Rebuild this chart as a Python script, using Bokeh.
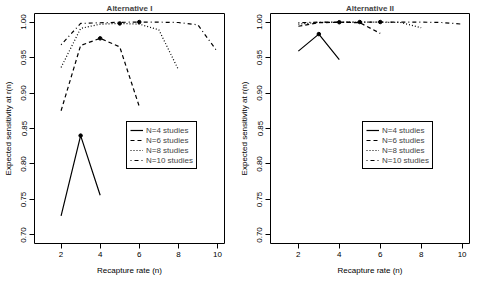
from bokeh.plotting import figure
from bokeh.layouts import row
from bokeh.models import Range1d, FixedTicker, PrintfTickFormatter, Legend, LegendItem
from bokeh.embed import file_html
from bokeh.resources import INLINE

# ---- data: Alternative I ----
alt1_n4_x = [2, 3, 4]
alt1_n4_y = [0.727, 0.840, 0.756]
alt1_n6_x = [2, 3, 4, 5, 6]
alt1_n6_y = [0.875, 0.967, 0.977, 0.965, 0.881]
alt1_n8_x = [2, 3, 4, 5, 6, 7, 8]
alt1_n8_y = [0.936, 0.991, 0.997, 0.998, 0.997, 0.989, 0.933]
alt1_n10_x = [2, 3, 4, 5, 6, 7, 8, 9, 10]
alt1_n10_y = [0.968, 0.998, 0.999, 0.9995, 1.000, 0.9998, 0.9993, 0.996, 0.958]

# ---- data: Alternative II ----
alt2_n4_x = [2, 3, 4]
alt2_n4_y = [0.959, 0.983, 0.947]
alt2_n6_x = [2, 3, 4, 5, 6]
alt2_n6_y = [0.994, 0.999, 0.9997, 0.999, 0.984]
alt2_n8_x = [2, 3, 4, 5, 6, 7, 8]
alt2_n8_y = [0.997, 0.9995, 0.9998, 1.000, 0.9998, 0.9993, 0.992]
alt2_n10_x = [2, 3, 4, 5, 6, 7, 8, 9, 10]
alt2_n10_y = [0.999, 0.9998, 0.9999, 0.9999, 1.000, 0.9999, 0.9998, 0.9993, 0.997]

series_labels = ["N=4 studies", "N=6 studies", "N=8 studies", "N=10 studies"]
series_dashes = ["solid", "4 3", "1 2", "1 3 4 3"]
x_ticks = [2, 4, 6, 8, 10]
y_ticks = [0.70, 0.75, 0.80, 0.85, 0.90, 0.95, 1.00]

FONT = "Liberation Sans"


def make_panel(title, series, width, left_border, right_border):
    p = figure(width=width, height=277, output_backend="svg", toolbar_location=None,
               x_range=Range1d(0.64, 10.36), y_range=Range1d(0.688, 1.012),
               title=title, min_border_left=left_border, min_border_right=right_border,
               min_border_top=2, min_border_bottom=0)
    p.title.align = "center"
    p.title.text_font = FONT
    p.title.text_font_size = "8px"
    p.title.text_font_style = "bold"
    p.title.offset = 0
    p.title.standoff = 2
    p.grid.visible = False
    p.outline_line_color = "black"
    p.outline_line_alpha = 1
    p.outline_line_width = 1
    p.background_fill_color = "white"
    p.border_fill_color = "white"

    for ax in (p.xaxis, p.yaxis):
        ax.axis_line_color = None
        ax.major_tick_in = 0
        ax.major_tick_out = 5
        ax.minor_tick_line_color = None
        ax.major_tick_line_color = "black"
        ax.major_label_text_font = FONT
        ax.major_label_text_font_size = "8px"
        ax.major_label_text_color = "black"
        ax.axis_label_text_font = FONT
        ax.axis_label_text_font_size = "8px"
        ax.axis_label_text_font_style = "normal"
        ax.axis_label_text_color = "black"
        ax.major_label_standoff = 3
        ax.axis_label_standoff = 6
    p.xaxis.ticker = FixedTicker(ticks=x_ticks)
    p.yaxis.ticker = FixedTicker(ticks=y_ticks)
    p.yaxis.formatter = PrintfTickFormatter(format="%.2f")
    p.yaxis.major_label_orientation = "vertical"
    p.xaxis.axis_label = "Recapture rate (n)"
    p.yaxis.axis_label = "Expected sensitivity at r(n)"

    items = []
    for (xs, ys), lab, dash in zip(series, series_labels, series_dashes):
        r = p.line(xs, ys, line_color="black", line_width=1.2, line_dash=dash)
        items.append(LegendItem(label=lab, renderers=[r]))
        i = ys.index(max(ys))
        p.scatter([xs[i]], [ys[i]], size=3.5, color="black")

    legend = Legend(items=items, location=(92, 74))
    legend.label_text_font = FONT
    legend.label_text_font_size = "8px"
    legend.label_height = 10
    legend.glyph_height = 10
    legend.glyph_width = 13
    legend.label_standoff = 3
    legend.spacing = 0
    legend.padding = 3
    legend.margin = 0
    legend.border_line_color = "black"
    legend.border_line_alpha = 1
    legend.border_line_width = 1
    legend.background_fill_alpha = 1
    p.add_layout(legend, "center")
    return p


p1 = make_panel("Alternative I",
                [(alt1_n4_x, alt1_n4_y), (alt1_n6_x, alt1_n6_y),
                 (alt1_n8_x, alt1_n8_y), (alt1_n10_x, alt1_n10_y)],
                236, 30, 12)
p2 = make_panel("Alternative II",
                [(alt2_n4_x, alt2_n4_y), (alt2_n6_x, alt2_n6_y),
                 (alt2_n8_x, alt2_n8_y), (alt2_n10_x, alt2_n10_y)],
                236, 30, 3)

layout = row(p1, p2)
open("out.html", "w").write(file_html(layout, INLINE))
